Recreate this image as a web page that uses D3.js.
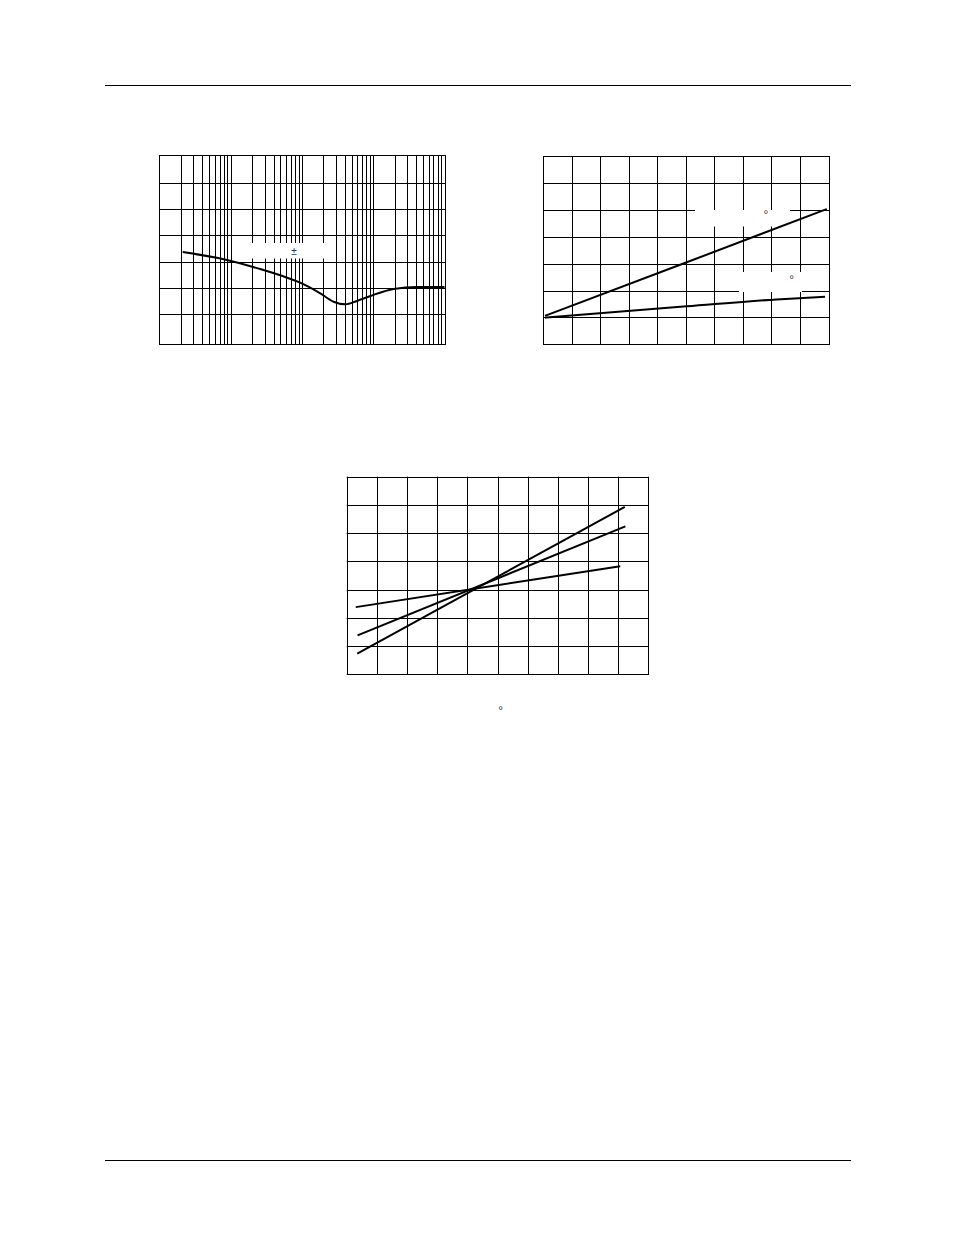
<!DOCTYPE html>
<html><head><meta charset="utf-8">
<script src="https://cdn.jsdelivr.net/npm/d3@7"></script>
<style>body{margin:0;background:#fff}svg{display:block}</style>
</head><body>
<script>
// ---- Chart 1 (log-frequency response) ----
const freq1 = [2.13, 8.85, 26, 65, 94.6, 181, 278, 407, 592, 912, 1936, 4120, 10000];
const resp1 = [3.36, 3.06, 2.71, 2.36, 2.19, 1.78, 1.46, 1.36, 1.49, 1.68, 1.95, 2.02, 2.02];
const yGrid1 = [1, 2, 3, 4, 5, 6];

// ---- Chart 2 (two curves vs. linear x) ----
const x2Upper = [0.06, 5.03, 9.94];
const y2Upper = [1.06, 3.05, 5.03];
const x2Lower = [0.06, 5.03, 8.18, 9.88];
const y2Lower = [0.99, 1.41, 1.67, 1.77];
const xGrid2 = [0,1,2,3,4,5,6,7,8,9,10];
const yGrid2 = [0,1,2,3,4,5,6,7];

// ---- Chart 3 (three straight lines) ----
const x3 = [0.35, 9.22];
const y3a = [0.73, 5.93];
const x3b = [0.36, 9.24];
const y3b = [1.38, 5.24];
const x3c = [0.30, 9.07];
const y3c = [2.38, 3.83];
const xGrid3 = [0,1,2,3,4,5,6,7,8,9,10];
const yGrid3 = [0,1,2,3,4,5,6,7];

const svg = d3.select("body").append("svg").attr("width", 954).attr("height", 1235);

// page rules
svg.append("line").attr("x1",105).attr("x2",851).attr("y1",85.5).attr("y2",85.5).attr("stroke","#000").attr("stroke-width",1);
svg.append("line").attr("x1",105).attr("x2",851).attr("y1",1160.5).attr("y2",1160.5).attr("stroke","#000").attr("stroke-width",1);

function gridV(g, xs, vals, y0, y1){
  g.selectAll(null).data(vals).join("line")
   .attr("x1",d=>Math.round(xs(d))+0.5).attr("x2",d=>Math.round(xs(d))+0.5)
   .attr("y1",y0).attr("y2",y1).attr("stroke","#000").attr("stroke-width",1);
}
function gridH(g, ys, vals, x0, x1){
  g.selectAll(null).data(vals).join("line")
   .attr("y1",d=>Math.round(ys(d))+0.5).attr("y2",d=>Math.round(ys(d))+0.5)
   .attr("x1",x0).attr("x2",x1).attr("stroke","#000").attr("stroke-width",1);
}
function frame(g,x0,y0,x1,y1){
  g.append("rect").attr("x",Math.round(x0)+0.5).attr("y",Math.round(y0)+0.5)
   .attr("width",Math.round(x1)-Math.round(x0)).attr("height",Math.round(y1)-Math.round(y0))
   .attr("fill","none").attr("stroke","#000").attr("stroke-width",1);
}
function whiteBox(g,x0,y0,x1,y1){
  g.append("rect").attr("x",x0).attr("y",y0).attr("width",x1-x0).attr("height",y1-y0).attr("fill","#fff");
}
function glyph(g,x,y,t,s){
  g.append("text").attr("x",x).attr("y",y).attr("text-anchor","middle")
   .attr("font-family","Liberation Sans, Arial, sans-serif").attr("font-size",s||10).attr("fill","#333").text(t);
}

// ---- Chart 1 ----
{
  const g = svg.append("g");
  const xs = d3.scaleLog().domain([1,1e4]).range([159.3,444.5]);
  const ys = d3.scaleLinear().domain([-0.16,7.08]).range([344,155]);
  gridV(g, xs, xs.ticks(), 155, 344);
  gridH(g, ys, yGrid1, 159, 445);
  whiteBox(g, 248, 243, 330, 258.5);
  frame(g, 159.3, 155, 444.5, 344);
  const line = d3.line().x((d,i)=>xs(freq1[i])).y(d=>ys(d)).curve(d3.curveMonotoneX);
  g.append("path").attr("d", line(resp1)).attr("fill","none").attr("stroke","#000").attr("stroke-width",2);
  glyph(g, 294, 255, "±", 10);
}

// ---- Chart 2 ----
{
  const g = svg.append("g");
  const xs = d3.scaleLinear().domain([0,10]).range([543.3,828.5]);
  const ys = d3.scaleLinear().domain([0,7]).range([344.3,156]);
  gridV(g, xs, xGrid2, 156, 344);
  gridH(g, ys, yGrid2, 543, 829);
  whiteBox(g, 695, 210, 790, 226.5);
  whiteBox(g, 739, 272, 802, 292);
  frame(g, 543.3, 156, 828.5, 344.3);
  const lu = d3.line().x((d,i)=>xs(x2Upper[i])).y(d=>ys(d)).curve(d3.curveMonotoneX);
  const ll = d3.line().x((d,i)=>xs(x2Lower[i])).y(d=>ys(d)).curve(d3.curveMonotoneX);
  g.append("path").attr("d", lu(y2Upper)).attr("fill","none").attr("stroke","#000").attr("stroke-width",2);
  g.append("path").attr("d", ll(y2Lower)).attr("fill","none").attr("stroke","#000").attr("stroke-width",2);
  glyph(g, 766, 219, "°", 12);
  glyph(g, 791.7, 284, "°", 12);
}

// ---- Chart 3 ----
{
  const g = svg.append("g");
  const xs = d3.scaleLinear().domain([0,10]).range([346.7,648.3]);
  const ys = d3.scaleLinear().domain([0,7]).range([674.3,476.7]);
  gridV(g, xs, xGrid3, 476.7, 674.3);
  gridH(g, ys, yGrid3, 346.7, 648.3);
  frame(g, 346.7, 476.7, 648.3, 674.3);
  const mk = xa => d3.line().x((d,i)=>xs(xa[i])).y(d=>ys(d));
  g.append("path").attr("d", mk(x3)(y3a)).attr("fill","none").attr("stroke","#000").attr("stroke-width",2);
  g.append("path").attr("d", mk(x3b)(y3b)).attr("fill","none").attr("stroke","#000").attr("stroke-width",2);
  g.append("path").attr("d", mk(x3c)(y3c)).attr("fill","none").attr("stroke","#000").attr("stroke-width",2);
  glyph(svg, 500.7, 715, "°", 12);
}
</script>
</body></html>
